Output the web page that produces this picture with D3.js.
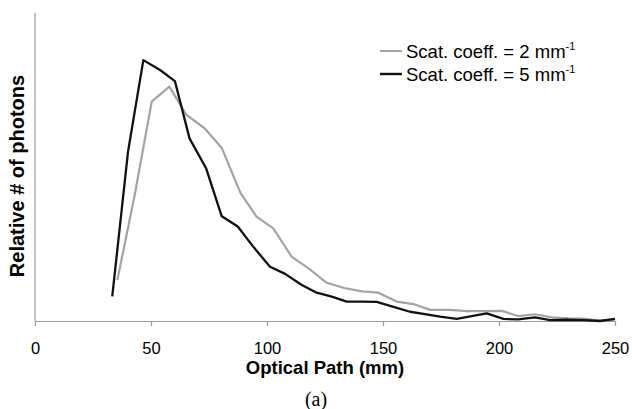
<!DOCTYPE html>
<html>
<head>
<meta charset="utf-8">
<script src="https://cdn.jsdelivr.net/npm/d3@7"></script>
<style>
    body { margin: 0; background: #fff; }
    svg { display: block; font-family: "Liberation Sans", Arial, sans-serif; }
</style>
</head>
<body>
<div id="chart"></div>
<script>
// Optical path (mm) and relative photon count.
const pathLow = [35.5, 43, 50.3, 57.9, 65.3, 73.2, 80.5, 88.6, 95.5, 102.7, 110.6, 118.2, 125.7, 133.3, 141,
    148, 155.9, 163.1, 170.3, 178.9, 186.1, 194.7, 201.2, 208.3, 215.5, 222.7, 229.9, 236.4, 243.5, 250];
const photonsLow = [13.3, 41, 71.2, 76.1, 66.9, 62.5, 56.2, 41.5, 33.9, 30.1, 20.9, 16.9, 12.4, 10.7, 9.6,
    9.2, 6.3, 5.5, 3.6, 3.6, 3.2, 3.2, 3.3, 1.6, 2.2, 1.2, 0.9, 0.8, 0.1, 0.4];

const pathHigh = [33.3, 40.1, 46.7, 53.9, 60.3, 66.6, 73.8, 80.5, 87.4, 94.2, 101.3, 107.8, 115, 121.4, 127.9,
    134.4, 141, 147.3, 154.5, 161.6, 167.4, 174.6, 181.8, 188.2, 194.7, 201.9, 208.3, 215.5, 222, 229.2,
    236.4, 243.5, 250];
const photonsHigh = [8, 55, 84.7, 81.5, 77.9, 59.3, 49.5, 34, 30.7, 24, 17.6, 15.3, 11.7, 9.2, 7.9,
    6.3, 6.3, 6.2, 4.6, 3, 2.3, 1.4, 0.7, 1.6, 2.5, 0.7, 0.5, 1.2, 0.3, 0.4,
    0.3, 0, 0.7];

const xTicks = [0, 50, 100, 150, 200, 250];
const seriesNames = ["Scat. coeff. = 2 mm", "Scat. coeff. = 5 mm"];

const width = 632, height = 409;
const margin = { top: 13, right: 17, bottom: 88, left: 35 };

const svg = d3.select("#chart").append("svg")
    .attr("width", width)
    .attr("height", height);

const x = d3.scaleLinear().domain([0, 250]).range([margin.left, width - margin.right]);
const y = d3.scaleLinear().domain([0, 100]).range([height - margin.bottom, margin.top]);

// Axes: plain gray lines, ticks only on the x axis
const xAxis = svg.append("g")
    .attr("transform", `translate(0,${y(0)})`)
    .call(d3.axisBottom(x).tickValues(xTicks).tickSize(5).tickPadding(16).tickSizeOuter(0));
xAxis.select(".domain").attr("stroke", "#9a9a9a").attr("stroke-width", 1.2);
xAxis.selectAll(".tick line").attr("stroke", "#9a9a9a").attr("stroke-width", 1.2);
xAxis.selectAll(".tick text")
    .attr("font-family", "Liberation Sans, Arial, sans-serif")
    .attr("font-size", 16.5)
    .attr("fill", "#000");

svg.append("line")
    .attr("x1", x(0)).attr("x2", x(0))
    .attr("y1", y(0)).attr("y2", y(100))
    .attr("stroke", "#9a9a9a")
    .attr("stroke-width", 1.2);

// Series
const line = d3.line().x(d => x(d[0])).y(d => y(d[1]));
const low = pathLow.map((p, i) => [p, photonsLow[i]]);
const high = pathHigh.map((p, i) => [p, photonsHigh[i]]);

svg.append("path")
    .datum(low)
    .attr("fill", "none")
    .attr("stroke", "#a3a3a3")
    .attr("stroke-width", 2.2)
    .attr("stroke-linejoin", "round")
    .attr("d", line);

svg.append("path")
    .datum(high)
    .attr("fill", "none")
    .attr("stroke", "#111")
    .attr("stroke-width", 2.3)
    .attr("stroke-linejoin", "round")
    .attr("d", line);

// Legend
const legendColors = ["#a3a3a3", "#111"];
const legend = svg.append("g").attr("transform", "translate(380,51)");
seriesNames.forEach((name, i) => {
    const g = legend.append("g").attr("transform", `translate(0,${i * 23})`);
    g.append("line")
        .attr("x1", 0).attr("x2", 22)
        .attr("stroke", legendColors[i])
        .attr("stroke-width", i === 0 ? 2 : 2.4);
    const t = g.append("text")
        .attr("x", 26)
        .attr("y", 6.5)
        .attr("font-size", 18.5)
        .attr("fill", "#000")
        .text(name);
    t.append("tspan")
        .attr("dy", -8)
        .attr("font-size", 11)
        .text("-1");
});

// Axis titles
svg.append("text")
    .attr("x", (x(0) + x(250)) / 2)
    .attr("y", 374)
    .attr("text-anchor", "middle")
    .attr("font-size", 18.5)
    .attr("font-weight", "bold")
    .text("Optical Path (mm)");

svg.append("text")
    .attr("transform", "translate(24,176) rotate(-90)")
    .attr("text-anchor", "middle")
    .attr("font-size", 20)
    .attr("font-weight", "bold")
    .text("Relative # of photons");

svg.append("text")
    .attr("x", 316)
    .attr("y", 406)
    .attr("text-anchor", "middle")
    .attr("font-family", "Liberation Serif, Times New Roman, serif")
    .attr("font-size", 20)
    .text("(a)");
</script>
</body>
</html>
